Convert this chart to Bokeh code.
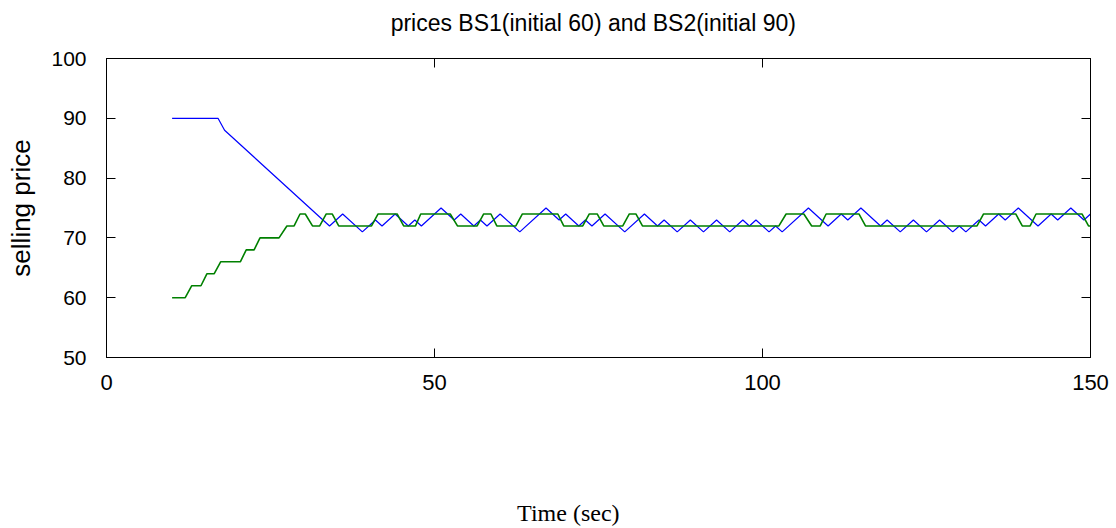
from bokeh.plotting import figure
from bokeh.models import Range1d, LinearAxis, FixedTicker
from bokeh.layouts import column
from bokeh.core.properties import value
from bokeh.embed import file_html
from bokeh.resources import INLINE

# ---- data ----
blue_t = [10, 17, 18, 34, 36, 39, 41, 42, 44, 46, 47, 48, 51, 53, 54, 56, 57, 58, 60, 63,
          67, 69, 70, 72, 73, 74, 76, 79, 82, 84, 85, 87, 89, 91, 93, 95, 97, 98, 99, 101,
          102, 103, 107, 110, 112, 113, 115, 118, 119, 121, 123, 125, 127, 129, 130, 131,
          133, 134, 136, 137, 139, 142, 144, 145, 147, 149, 150]
blue_v = [90, 90, 88, 72, 74, 71, 73, 72, 74, 72, 73, 72, 75, 73, 74, 72, 73, 72, 74, 71,
          75, 73, 74, 72, 73, 72, 74, 71, 74, 72, 73, 71, 73, 71, 73, 71, 73, 72, 73, 71,
          72, 71, 75, 72, 74, 73, 75, 72, 73, 71, 73, 71, 73, 71, 72, 71,
          73, 72, 74, 73, 75, 72, 74, 73, 75, 73, 74]

green_t = [10, 12, 13, 14.4, 15.3, 16.4, 17.4, 20.4, 21.3, 22.5,
           23.4, 26.3, 27.5, 28.6, 29.5, 30.3, 31.4, 32.5, 33.5, 34.4,
           35.4, 40.4, 41.4, 44.3, 45.3, 47.1, 47.9, 52.4, 53.5, 56.5,
           57.5, 58.6, 59.5, 62.4, 63.4, 68.8, 69.7, 72.6, 73.6, 74.8,
           75.8, 78.7, 79.7, 80.7, 81.7, 102.5, 103.6, 106.3, 107.5, 108.8,
           109.7, 114.7, 115.7, 132.7, 133.7, 138.6, 139.6, 140.8, 141.7, 148.7,
           149.7, 150]
green_v = [60, 60, 62, 62, 64, 64, 66, 66, 68, 68,
           70, 70, 72, 72, 74, 74, 72, 72, 74, 74,
           72, 72, 74, 74, 72, 72, 74, 74, 72, 72,
           74, 74, 72, 72, 74, 74, 72, 72, 74, 74,
           72, 72, 74, 74, 72, 72, 74, 74, 72, 72,
           74, 74, 72, 72, 74, 74, 72, 72, 74, 74,
           72, 72]

x_ticks = [0, 50, 100, 150]
y_ticks = [50, 60, 70, 80, 90, 100]

title_text = "prices BS1(initial 60) and BS2(initial 90)"
y_label = "selling price"
x_label = "Time (sec)"

SANS = "Liberation Sans"


def strip(height):
    f = figure(width=1116, height=height, output_backend="svg", toolbar_location=None,
               x_range=Range1d(0, 150), y_range=Range1d(0, 1),
               min_border_left=106, min_border_right=26, min_border_top=0, min_border_bottom=0)
    f.axis.visible = False
    f.grid.visible = False
    f.outline_line_color = None
    f.background_fill_color = "white"
    f.border_fill_color = "white"
    return f


# title strip
top = strip(40)
top.text(x=[74.2], y=[0.43], text=[title_text], text_align="center", text_baseline="middle",
         text_font=value(SANS), text_font_size="23px", text_color="black")

p = figure(width=1116, height=450, output_backend="svg", toolbar_location=None,
           x_range=Range1d(0, 150), y_range=Range1d(50, 100),
           min_border_left=106, min_border_right=26, min_border_top=18, min_border_bottom=133)

p.background_fill_color = "white"
p.border_fill_color = "white"
p.outline_line_color = "black"
p.grid.visible = False


def style_axis(ax, ticks, labels=True, size="21px"):
    ax.ticker = FixedTicker(ticks=ticks)
    ax.major_tick_in = 9
    ax.major_tick_out = 0
    ax.minor_tick_line_color = None
    ax.axis_line_color = "black"
    ax.major_tick_line_color = "black"
    if labels:
        ax.major_label_text_font = SANS
        ax.major_label_text_font_size = size
        ax.major_label_text_color = "black"
    else:
        ax.major_label_text_font_size = "1px"
        ax.major_label_text_color = None
        ax.major_label_standoff = 0


style_axis(p.xaxis[0], x_ticks, size="22px")
p.xaxis[0].major_label_standoff = 17
style_axis(p.yaxis[0], y_ticks)
p.yaxis[0].major_label_standoff = 20
p.yaxis[0].axis_label = y_label
p.yaxis[0].axis_label_text_font = SANS
p.yaxis[0].axis_label_text_font_size = "26px"
p.yaxis[0].axis_label_text_font_style = "normal"
p.yaxis[0].axis_label_text_color = "black"
p.yaxis[0].axis_label_standoff = 12

top_ax = LinearAxis()
style_axis(top_ax, x_ticks, labels=False)
p.add_layout(top_ax, "above")
right_ax = LinearAxis()
style_axis(right_ax, y_ticks, labels=False)
p.add_layout(right_ax, "right")

p.line(blue_t, blue_v, line_color="#0000ff", line_width=1.2)
p.line(green_t, green_v, line_color="#008000", line_width=1.6)

# caption strip under the chart (the caption sits left of the frame centre)
cap = strip(38)
cap.text(x=[70.4], y=[0.42], text=[x_label], text_align="center", text_baseline="middle",
         text_font=value("Liberation Serif"), text_font_size="24px", text_color="black")

layout = column(top, p, cap, spacing=0)
open("out.html", "w").write(file_html(layout, INLINE))
